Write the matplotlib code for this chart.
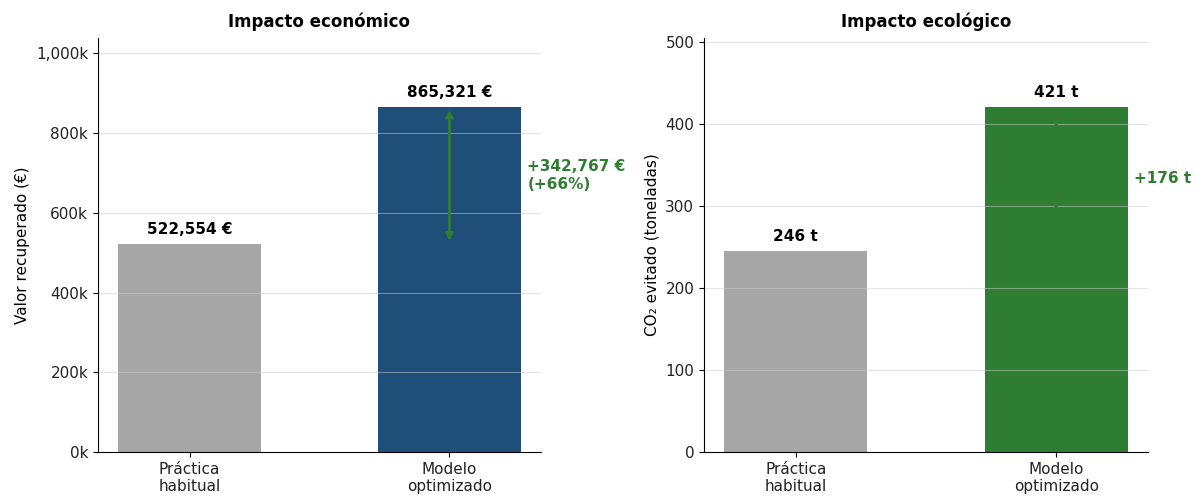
import matplotlib
matplotlib.use("Agg")
import matplotlib.pyplot as plt
from matplotlib.ticker import FuncFormatter

categories = ["Práctica\nhabitual", "Modelo\noptimizado"]
valor_eur = [522554, 865321]
co2_t = [245.6, 421.2]
bar_colors_eco = ["#a6a6a6", "#1f4e79"]
bar_colors_co2 = ["#a6a6a6", "#2e7d32"]
accent = "#2e7d32"

fig = plt.figure(figsize=(12.02, 4.97), dpi=100)
ax1 = fig.add_axes([0.0815, 0.0905, 0.3686, 0.833])
ax2 = fig.add_axes([0.5857, 0.0905, 0.3693, 0.833])

x = list(range(len(categories)))


def draw_panel(ax, values, colors, title, ylabel, fmt, diff_text):
    ax.bar(x, values, width=0.55, color=colors)
    top = max(values)
    ax.set_ylim(0, top * 1.2)
    for xi, v in zip(x, values):
        ax.text(xi, v + top * 0.02, fmt(v), ha="center", va="bottom",
                fontsize=11, fontweight="bold")
    ax.annotate("", xy=(1, values[1]), xytext=(1, values[0]),
                arrowprops=dict(arrowstyle="<->", color=accent, lw=2))
    ax.text(1.3, (values[0] + values[1]) / 2, diff_text, ha="left",
            va="center", fontsize=11, fontweight="bold", color=accent)
    ax.set_xticks(x)
    ax.set_xticklabels(categories)
    ax.set_title(title, fontsize=12, fontweight="bold", pad=8)
    ax.set_ylabel(ylabel, fontsize=11)
    ax.grid(axis="y", color="#cccccc", alpha=0.5, lw=0.8)
    ax.spines["top"].set_visible(False)
    ax.spines["right"].set_visible(False)
    ax.tick_params(labelsize=11, labelcolor="#222222")


d_eur = valor_eur[1] - valor_eur[0]
pct = d_eur / valor_eur[0] * 100
draw_panel(ax1, valor_eur, bar_colors_eco, "Impacto económico",
           "Valor recuperado (€)", lambda v: f"{v:,.0f} €",
           f"+{d_eur:,.0f} €\n(+{pct:.0f}%)")
ax1.yaxis.set_major_formatter(FuncFormatter(lambda v, p: f"{v/1000:,.0f}k"))

d_co2 = co2_t[1] - co2_t[0]
draw_panel(ax2, co2_t, bar_colors_co2, "Impacto ecológico",
           "CO₂ evitado (toneladas)", lambda v: f"{v:.0f} t",
           f"+{d_co2:.0f} t")

fig.savefig("out.png", dpi=100)
